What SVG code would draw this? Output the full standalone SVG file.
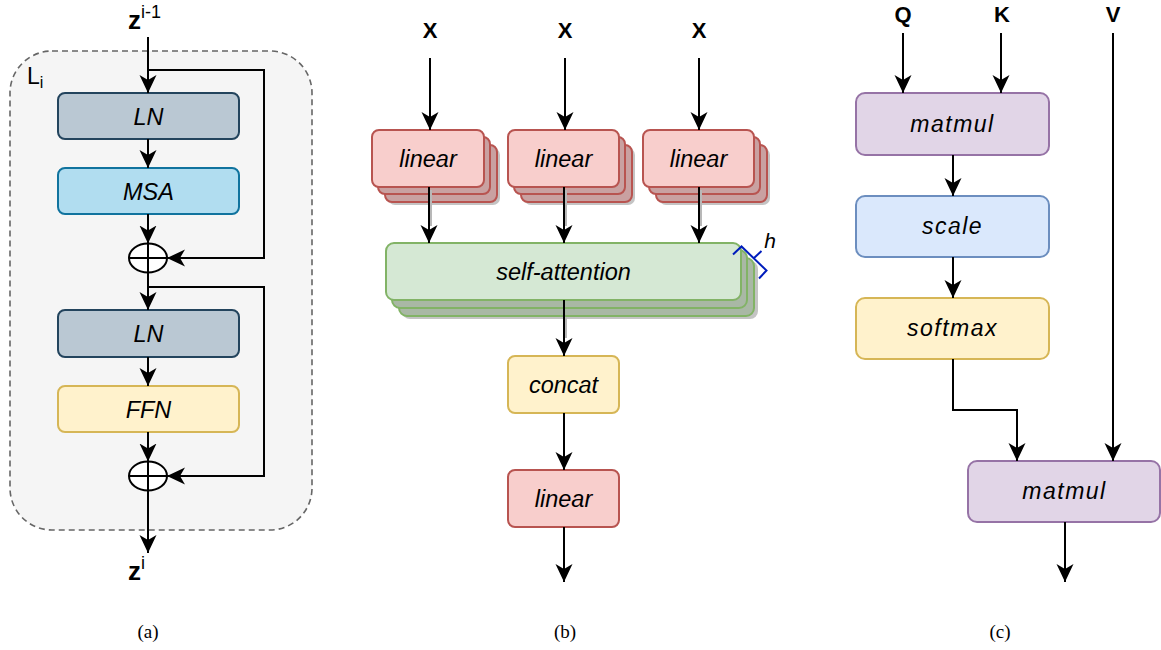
<svg xmlns="http://www.w3.org/2000/svg" width="1161" height="650" viewBox="0 0 1161 650">
  <defs>
    <marker id="arrow" markerUnits="userSpaceOnUse" markerWidth="20" markerHeight="20" refX="18" refY="10" orient="auto">
      <path d="M0,1.5 L18,10 L0,18.5 L5,10 Z" fill="#000"/>
    </marker>
    <style>
      .lbl { font-family: "Liberation Sans", Arial, sans-serif; font-style: italic; font-size: 23.5px; fill: #000; text-anchor: middle; }
      .lblc { font-family: "Liberation Sans", Arial, sans-serif; font-style: italic; font-size: 23px; letter-spacing: 1.5px; fill: #000; text-anchor: middle; }
      .head { font-family: "Liberation Sans", Arial, sans-serif; font-weight: bold; font-size: 22px; fill: #000; text-anchor: middle; }
      .cap { font-family: "Liberation Serif", "Times New Roman", serif; font-size: 19px; fill: #000; text-anchor: middle; }
      .edge { fill: none; stroke: #000; stroke-width: 2; }
      .edge-shadow { fill: none; stroke: #b8b8b8; stroke-width: 2; }
      .ln { fill: #bac8d3; stroke: #23445d; stroke-width: 2; }
      .msa { fill: #b1ddf0; stroke: #10739e; stroke-width: 2; }
      .yellow { fill: #fff2cc; stroke: #d6b656; stroke-width: 2; }
      .red { fill: #f8cecc; stroke: #b85450; stroke-width: 2; }
      .red-back { fill: #c9a1a1; stroke: #b85450; stroke-width: 2; }
      .green { fill: #d5e8d4; stroke: #82b366; stroke-width: 2; }
      .green-back { fill: #a9b8a5; stroke: #82b366; stroke-width: 2; }
      .purple { fill: #e1d5e7; stroke: #9673a6; stroke-width: 2; }
      .blue { fill: #dae8fc; stroke: #6c8ebf; stroke-width: 2; }
      .shadow { fill: #c4c4c4; stroke: none; }
      .plus { fill: #fff; stroke: #000; stroke-width: 2; }
    </style>
  </defs>

  <!-- (a) encoder layer -->
  <g id="layer-container">
    <rect x="10" y="51" width="302" height="479" rx="42" ry="42" fill="#f5f5f5" stroke="#666" stroke-width="1.6" stroke-dasharray="6,4"/>
    <text x="27" y="84" font-family="Liberation Sans, Arial, sans-serif" font-size="23" fill="#000">L<tspan font-size="16" dy="4">i</tspan></text>
  </g>
  <g id="z-in">
    <text x="128" y="29" font-family="Liberation Sans, Arial, sans-serif" font-size="26" font-weight="bold" fill="#000">z<tspan font-size="18" font-weight="normal" dy="-11">i-1</tspan></text>
  </g>
  <g id="z-out">
    <text x="128" y="580" font-family="Liberation Sans, Arial, sans-serif" font-size="26" font-weight="bold" fill="#000">z<tspan font-size="18" font-weight="normal" dy="-11">i</tspan></text>
  </g>
  <g id="ln1">
    <rect class="ln" x="58" y="93" width="181" height="46" rx="7"/>
    <text class="lbl" x="148.5" y="124.5">LN</text>
  </g>
  <g id="msa">
    <rect class="msa" x="58" y="168" width="181" height="46" rx="7"/>
    <text class="lbl" x="148.5" y="199.5">MSA</text>
  </g>
  <g id="add1">
    <ellipse class="plus" cx="148" cy="258" rx="19" ry="14.5"/>
    <line x1="129" y1="258" x2="167" y2="258" stroke="#000" stroke-width="2"/>
    <line x1="148" y1="243.5" x2="148" y2="272.5" stroke="#000" stroke-width="2"/>
  </g>
  <g id="ln2">
    <rect class="ln" x="58" y="310" width="181" height="47" rx="7"/>
    <text class="lbl" x="148.5" y="341.5">LN</text>
  </g>
  <g id="ffn">
    <rect class="yellow" x="58" y="386" width="181" height="46" rx="7"/>
    <text class="lbl" x="148.5" y="417.5">FFN</text>
  </g>
  <g id="add2">
    <ellipse class="plus" cx="148" cy="476" rx="19" ry="14.5"/>
    <line x1="129" y1="476" x2="167" y2="476" stroke="#000" stroke-width="2"/>
    <line x1="148" y1="461.5" x2="148" y2="490.5" stroke="#000" stroke-width="2"/>
  </g>
  <g id="caption-a"><text class="cap" x="148" y="638">(a)</text></g>

  <!-- (b) multi-head attention -->
  <g id="x1"><text class="head" x="430" y="38">X</text></g>
  <g id="x2"><text class="head" x="565" y="38">X</text></g>
  <g id="x3"><text class="head" x="699" y="38">X</text></g>

  <g id="linear-q">
    <rect class="shadow" x="388" y="148" width="112" height="57" rx="7"/>
    <rect class="red-back" x="385" y="145" width="112" height="57" rx="7"/>
    <rect class="red-back" x="378" y="137" width="112" height="57" rx="7"/>
    <rect class="red" x="372" y="130" width="112" height="57" rx="7"/>
    <text class="lbl" x="428" y="166.5">linear</text>
  </g>
  <g id="linear-k">
    <rect class="shadow" x="524" y="148" width="111" height="57" rx="7"/>
    <rect class="red-back" x="521" y="145" width="111" height="57" rx="7"/>
    <rect class="red-back" x="514" y="137" width="111" height="57" rx="7"/>
    <rect class="red" x="508" y="130" width="111" height="57" rx="7"/>
    <text class="lbl" x="563.5" y="166.5">linear</text>
  </g>
  <g id="linear-v">
    <rect class="shadow" x="659" y="148" width="111" height="57" rx="7"/>
    <rect class="red-back" x="656" y="145" width="111" height="57" rx="7"/>
    <rect class="red-back" x="649" y="137" width="111" height="57" rx="7"/>
    <rect class="red" x="643" y="130" width="111" height="57" rx="7"/>
    <text class="lbl" x="698.5" y="166.5">linear</text>
  </g>
  <g id="self-attention">
    <rect class="shadow" x="402" y="261" width="356" height="58" rx="8"/>
    <rect class="green-back" x="399" y="258" width="355" height="58" rx="8"/>
    <rect class="green-back" x="392" y="250" width="355" height="58" rx="8"/>
    <rect class="green" x="386" y="243" width="355" height="57" rx="8"/>
    <text class="lbl" x="563.5" y="279.5">self-attention</text>
    <path d="M733,254.5 L741.5,246.5 L766.5,270.5 L759,278.5 M753.5,258.5 L761.5,251" fill="none" stroke="#001dbc" stroke-width="2"/>
    <text x="770" y="248" font-family="Liberation Sans, Arial, sans-serif" font-style="italic" font-size="21" fill="#000" text-anchor="middle">h</text>
  </g>
  <g id="concat">
    <rect class="yellow" x="508" y="356" width="111" height="57" rx="7"/>
    <text class="lbl" x="563.5" y="392.5">concat</text>
  </g>
  <g id="linear-out">
    <rect class="red" x="508" y="470" width="111" height="57" rx="7"/>
    <text class="lbl" x="563.5" y="506.5">linear</text>
  </g>
  <g id="caption-b"><text class="cap" x="565" y="638">(b)</text></g>

  <!-- (c) scaled dot-product attention -->
  <g id="q"><text class="head" x="903" y="22">Q</text></g>
  <g id="k"><text class="head" x="1002" y="22">K</text></g>
  <g id="v"><text class="head" x="1113" y="22">V</text></g>
  <g id="matmul1">
    <rect class="purple" x="856" y="93" width="193" height="62" rx="9"/>
    <text class="lblc" x="952.5" y="132">matmul</text>
  </g>
  <g id="scale">
    <rect class="blue" x="856" y="196" width="193" height="61" rx="9"/>
    <text class="lblc" x="952.5" y="234">scale</text>
  </g>
  <g id="softmax">
    <rect class="yellow" x="856" y="298" width="193" height="61" rx="9"/>
    <text class="lblc" x="952.5" y="336">softmax</text>
  </g>
  <g id="matmul2">
    <rect class="purple" x="968" y="461" width="192" height="61" rx="9"/>
    <text class="lblc" x="1064.5" y="499">matmul</text>
  </g>
  <g id="caption-c"><text class="cap" x="1000" y="638">(c)</text></g>

  <g id="connectors">
    <!-- (a) -->
    <path class="edge" d="M148,37 L148,93" marker-end="url(#arrow)"/>
    <path class="edge" d="M148,70 L264,70 L264,258 L167,258" marker-end="url(#arrow)"/>
    <path class="edge" d="M148,139 L148,168" marker-end="url(#arrow)"/>
    <path class="edge" d="M148,214 L148,243.5" marker-end="url(#arrow)"/>
    <path class="edge" d="M148,272.5 L148,310" marker-end="url(#arrow)"/>
    <path class="edge" d="M148,287 L264,287 L264,476 L167,476" marker-end="url(#arrow)"/>
    <path class="edge" d="M148,357 L148,386" marker-end="url(#arrow)"/>
    <path class="edge" d="M148,432 L148,461.5" marker-end="url(#arrow)"/>
    <path class="edge" d="M148,490.5 L148,553" marker-end="url(#arrow)"/>
    <!-- (b) -->
    <path class="edge" d="M430,58 L430,130" marker-end="url(#arrow)"/>
    <path class="edge" d="M565,58 L565,130" marker-end="url(#arrow)"/>
    <path class="edge" d="M699,58 L699,130" marker-end="url(#arrow)"/>
    <path class="edge-shadow" d="M431,190 L431,226"/>
    <path class="edge-shadow" d="M566,190 L566,226"/>
    <path class="edge-shadow" d="M701,190 L701,226"/>
    <path class="edge" d="M429,187 L429,243" marker-end="url(#arrow)"/>
    <path class="edge" d="M564,187 L564,243" marker-end="url(#arrow)"/>
    <path class="edge" d="M699,187 L699,243" marker-end="url(#arrow)"/>
    <path class="edge-shadow" d="M566,317 L566,338"/>
    <path class="edge" d="M564,300 L564,356" marker-end="url(#arrow)"/>
    <path class="edge" d="M564,413 L564,470" marker-end="url(#arrow)"/>
    <path class="edge" d="M564,527 L564,582" marker-end="url(#arrow)"/>
    <!-- (c) -->
    <path class="edge" d="M903,33 L903,93" marker-end="url(#arrow)"/>
    <path class="edge" d="M1001,33 L1001,93" marker-end="url(#arrow)"/>
    <path class="edge" d="M953,155 L953,196" marker-end="url(#arrow)"/>
    <path class="edge" d="M953,257 L953,298" marker-end="url(#arrow)"/>
    <path class="edge" d="M953,359 L953,410 L1017,410 L1017,461" marker-end="url(#arrow)"/>
    <path class="edge" d="M1113,33 L1113,461" marker-end="url(#arrow)"/>
    <path class="edge" d="M1065,522 L1065,582" marker-end="url(#arrow)"/>
  </g>
</svg>
